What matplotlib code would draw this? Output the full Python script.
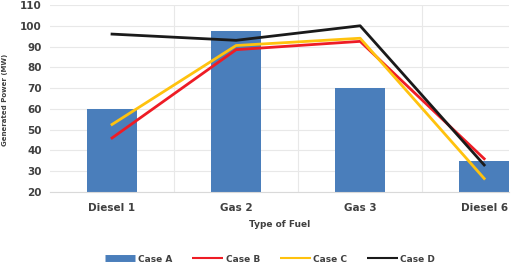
import matplotlib
matplotlib.use("Agg")
import matplotlib.pyplot as plt
from matplotlib.lines import Line2D
import numpy as np

categories = ["Diesel 1", "Gas 2", "Gas 3", "Diesel 6"]
case_a = [60, 97.5, 70, 35]
case_b = [46, 88.5, 92.5, 36]
case_c = [52.5, 90.5, 94, 26.5]
case_d = [96, 93, 100, 33]
yticks = [20, 30, 40, 50, 60, 70, 80, 90, 100, 110]

fig = plt.figure(figsize=(5.18, 2.68), dpi=100)
ax = fig.add_axes([50/518, 1 - 192/268, (509-50)/518, (192-5)/268])

x = np.arange(len(categories))
ax.bar(x, case_a, width=0.4, color="#4a7ebb", bottom=0, zorder=2)
ax.plot(x, case_b, color="#ee1c25", lw=2, zorder=3)
ax.plot(x, case_c, color="#ffc20e", lw=2, zorder=3)
ax.plot(x, case_d, color="#1a1a1a", lw=2, zorder=4)

ax.set_ylim(20, 110)
ax.set_xlim(-0.5, 3.2)
ax.set_yticks(yticks)
ax.set_xticks(x)
ax.set_xticklabels(categories)
for b in [0.5, 1.5, 2.5]:
    ax.axvline(b, color="#e8e8e8", lw=0.8, zorder=0)
ax.yaxis.grid(True, color="#e8e8e8", lw=0.8, zorder=0)
ax.set_axisbelow(True)
for s in ["top", "right", "left"]:
    ax.spines[s].set_visible(False)
ax.spines["bottom"].set_color("#d9d9d9")
ax.tick_params(axis="both", length=0, labelsize=7.5, colors="#404040")
for lab in ax.get_xticklabels() + ax.get_yticklabels():
    lab.set_fontweight("bold")
ax.tick_params(axis="y", pad=6)
ax.tick_params(axis="x", pad=8)

ax.set_xlabel("Type of Fuel", fontsize=6.5, fontweight="bold", color="#404040", labelpad=5)
fig.text(5/518, 1 - 100/268, "Generated Power (MW)", rotation=90, fontsize=5,
         color="#404040", fontweight="bold", ha="center", va="center")

handles = [
    Line2D([0], [0], color="#4a7ebb", lw=5, solid_capstyle="butt"),
    Line2D([0], [0], color="#ee1c25", lw=1.5, solid_capstyle="butt"),
    Line2D([0], [0], color="#ffc20e", lw=1.5, solid_capstyle="butt"),
    Line2D([0], [0], color="#1a1a1a", lw=1.5, solid_capstyle="butt"),
]
fig.legend(handles, ["Case A", "Case B", "Case C", "Case D"], loc="center",
           bbox_to_anchor=(270/518, 1 - 259/268), ncol=4, frameon=False,
           prop={"size": 6.5, "weight": "bold"}, handlelength=3.4,
           columnspacing=2.2, handletextpad=0.3, labelcolor="#404040")

fig.savefig("out.png", dpi=100)
